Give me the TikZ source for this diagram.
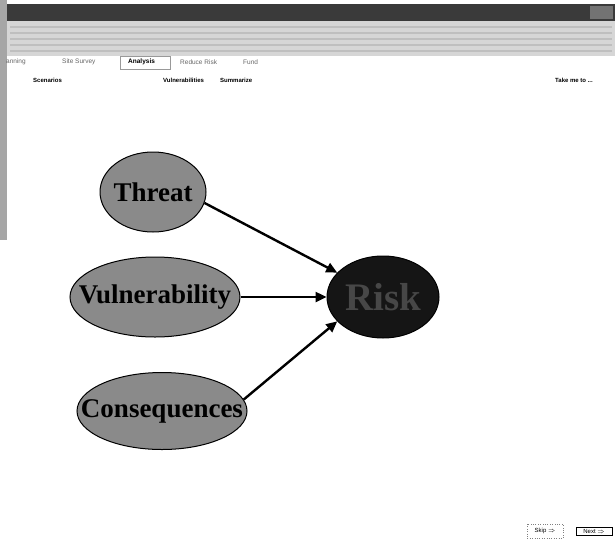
\documentclass[tikz,border=0pt]{standalone}
\usepackage{fontspec}
\setmainfont{Liberation Serif}
\setsansfont{Liberation Sans}
\usetikzlibrary{shapes.geometric,arrows.meta}
\definecolor{bubble}{HTML}{8A8A8A}
\definecolor{riskfill}{HTML}{151515}
\definecolor{barDark}{HTML}{3A3A3A}
\definecolor{barLight}{HTML}{D6D6D6}
% centred text that takes no width, so the ellipse keeps its set size
\newcommand\ctext[1]{\makebox[0pt]{#1}}
\tikzset{
  factor/.style={ellipse, draw=black, line width=1pt, fill=bubble, inner sep=0pt,
    font=\rmfamily\bfseries\fontsize{27}{27}\selectfont, text=black},
  outcome/.style={ellipse, draw=black, line width=1pt, fill=riskfill, inner sep=0pt,
    font=\rmfamily\bfseries\fontsize{39}{39}\selectfont, text=black!72},
  link/.style={-{Triangle[length=11pt,width=10pt]}, line width=2.4pt},
  tab/.style={font=\sffamily\fontsize{6.5}{7}\selectfont, text=black!60, anchor=west, inner sep=0pt},
  subtab/.style={font=\sffamily\bfseries\fontsize{6}{7}\selectfont, text=black, anchor=west, inner sep=0pt},
  navbtn/.style={font=\sffamily\fontsize{6}{7}\selectfont, inner sep=2pt}
}
\begin{document}
\begin{tikzpicture}[x=1pt,y=-1pt]
\useasboundingbox (0,0) rectangle (615,552);
\fill[white] (0,0) rectangle (615,552);

% window frame: side strip, title bar, toolbar band
\fill[black!35] (0,0) rectangle (7,240);
\fill[barDark] (7,4) rectangle (615,21);
\fill[black!55] (590,6) rectangle (613,19);
\fill[barLight] (7,21) rectangle (615,56);
\foreach \yy in {27,33,39,45,51} \draw[black!25, line width=1.2pt] (10,\yy) -- (612,\yy);

% navigation tabs
\node[tab] (tplan) at (6,62) {anning};
\node[tab] (tsite) at (62,62) {Site Survey};
\draw[black!40] (120,56) rectangle (170,69);
\node[tab, text=black, font=\sffamily\bfseries\fontsize{6.5}{7}\selectfont] (tana) at (128,62) {Analysis};
\node[tab] (tred) at (180,62) {Reduce Risk};
\node[tab] (tfund) at (243,62) {Fund};

% sub-steps row
\node[subtab] (sscen) at (33,80) {Scenarios};
\node[subtab] (svuln) at (163,80) {Vulnerabilities};
\node[subtab] (ssum) at (220,80) {Summarize};
\node[subtab] (stake) at (555,80) {Take me to ...};

% risk factors
\node[factor, minimum width=106pt, minimum height=80pt] (threat) at (153,192) {\ctext{Threat}};
\node[factor, minimum width=170pt, minimum height=80pt] (vuln) at (155,297) {\ctext{Vulnerability}};
\node[factor, minimum width=170pt, minimum height=77pt] (cons) at (162,411) {\ctext{Consequences}};
\node[outcome, minimum width=112pt, minimum height=82pt] (risk) at (383,297) {\ctext{Risk}};

% influence arrows
\draw[link] (threat.-12) -- (risk.152);
\draw[link] (vuln.east) -- (risk.west);
\draw[link] (cons.8) -- (risk.208);

% wizard buttons
\draw[black!50, dotted] (527,524) rectangle (563,538);
\node[navbtn] (skip) at (545,531) {Skip $\Rightarrow$};
\node[navbtn, draw=black, line width=0.8pt, minimum width=36pt] (next) at (594,531) {Next $\Rightarrow$};
\end{tikzpicture}
\end{document}
